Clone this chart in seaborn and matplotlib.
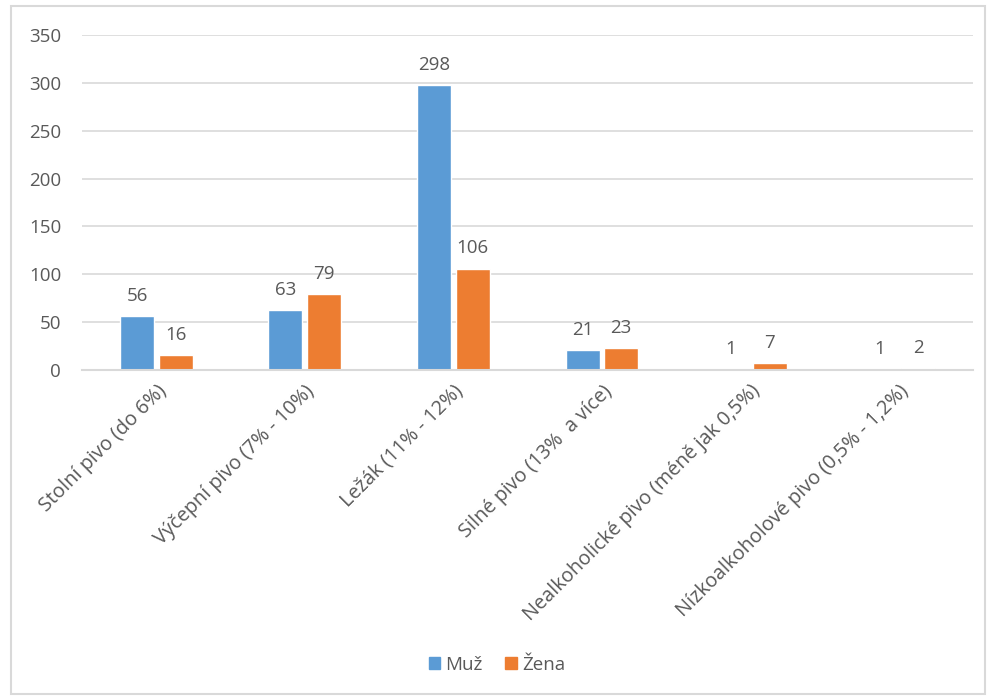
import matplotlib
matplotlib.use("Agg")
import matplotlib.pyplot as plt
import seaborn as sns
import pandas as pd
from matplotlib.patches import Rectangle

# Data
categories = [
    "Stolní pivo (do 6%)",
    "Výčepní pivo (7% - 10%)",
    "Ležák (11% - 12%)",
    "Silné pivo (13%  a více)",
    "Nealkoholické pivo (méně jak 0,5%)",
    "Nízkoalkoholové pivo (0,5% - 1,2%)",
]
muz = [56, 63, 298, 21, 1, 1]
zena = [16, 79, 106, 23, 7, 2]
series_names = ["Muž", "Žena"]
colors = ["#5B9BD5", "#ED7D31"]

df = pd.DataFrame({
    "kategorie": categories * 2,
    "pohlavi": [series_names[0]] * len(categories) + [series_names[1]] * len(categories),
    "pocet": muz + zena,
})

sns.set_theme(style="white")
plt.rcParams["font.family"] = ["Open Sans", "DejaVu Sans"]
text_color = "#595959"

fig = plt.figure(figsize=(9.94, 7.0), dpi=100)
ax = fig.add_axes([0.0825, 0.4714, 0.8965, 0.4786])

sns.barplot(data=df, x="kategorie", y="pocet", hue="pohlavi",
            palette=colors, width=0.52, gap=0.12, ax=ax,
            order=categories, hue_order=series_names, legend=False,
            saturation=1)

for cont in ax.containers:
    ax.bar_label(cont, labels=[f"{v:g}" for v in cont.datavalues],
                 padding=8, fontsize=13.5, color=text_color)

ax.set_ylim(0, 350)
ax.set_yticks(range(0, 351, 50))
ax.set_xlim(-0.5, len(categories) - 0.5)
ax.grid(axis="y", color="#D9D9D9", linewidth=1.2)
ax.set_axisbelow(True)
for s in ["left", "right", "top"]:
    ax.spines[s].set_visible(False)
ax.spines["bottom"].set_color("#D9D9D9")
ax.spines["bottom"].set_linewidth(1.5)
ax.set_xlabel("")
ax.set_ylabel("")
ax.tick_params(axis="y", length=0, pad=15, labelsize=13.5, labelcolor=text_color)
ax.tick_params(axis="x", length=0, pad=8, labelsize=14.3, labelcolor=text_color)
plt.setp(ax.get_xticklabels(), rotation=45, ha="right", rotation_mode="anchor")

# legend at the bottom
handles = [Rectangle((0, 0), 1, 1, color=c) for c in colors]
fig.legend(handles, series_names, loc="center", bbox_to_anchor=(0.5, 0.05),
           ncol=2, frameon=False, fontsize=13.5, labelcolor=text_color,
           handlelength=0.6, handleheight=0.6, handletextpad=0.3, columnspacing=1.2)

# outer chart border
fig.patches.append(Rectangle((0.011, 0.008), 0.98, 0.983, transform=fig.transFigure,
                             fill=False, edgecolor="#D9D9D9", linewidth=1.5))

fig.savefig("out.png", dpi=100)
